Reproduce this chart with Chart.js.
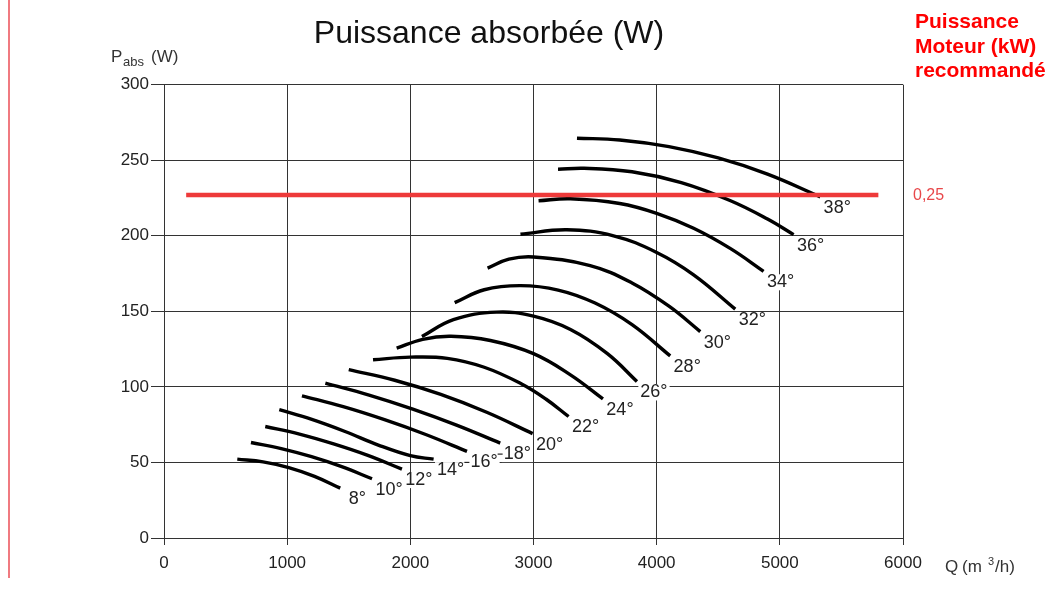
<!DOCTYPE html>
<html><head><meta charset="utf-8">
<script src="https://cdn.jsdelivr.net/npm/chart.js@4"></script>
<style>html,body{margin:0;padding:0;background:#fff;}#wrap{position:relative;width:1048px;height:593px;}</style>
</head><body><div id="wrap"><canvas id="c" width="1048" height="593"></canvas></div>
<script>
// ---- data ----
const xTicks = [0, 1000, 2000, 3000, 4000, 5000, 6000];
const yTicks = [0, 50, 100, 150, 200, 250, 300];
const angleLabels = ['8°','10°','12°','14°','16°','18°','20°','22°','24°','26°','28°','30°','32°','34°','36°','38°'];
// each curve: [Q (m3/h), Pabs (W)]
const c08 = [[595,52.2],[804,50.4],[1013,46.6],[1222,40.8],[1431,33]];
const c10 = [[706,63.2],[952,59.2],[1198,53.8],[1443,47.2],[1689,39.2]];
const c12 = [[822,73.8],[1100,68.8],[1377,62.3],[1655,54.7],[1932,45.6]];
const c14 = [[936,84.9],[1200,78.5],[1470,70.5],[1740,61.5],[2000,54.5],[2189,52.2]];
const c16 = [[1120,94.1],[1455,86.9],[1790,78.3],[2125,68.5],[2460,57.3]];
const c18 = [[1310,102.5],[1665,94.6],[2020,85.3],[2375,74.7],[2730,62.8]];
const c20 = [[1500,111.4],[1873,104.4],[2247,95.0],[2620,83.2],[2993,69.1]];
const c22 = [[1697,118],[2000,119.7],[2300,118.9],[2600,113],[2900,102.1],[3100,92],[3285,80.4]];
const c24 = [[1889,125.6],[2100,131.5],[2330,133.5],[2650,130.7],[3000,122],[3300,108],[3564,92.1]];
const c26 = [[2094,133.3],[2350,144.5],[2700,149.5],[3000,146.8],[3300,138],[3600,122],[3840,103.6]];
const c28 = [[2360,155.8],[2600,164.3],[2895,167],[3200,164.1],[3500,155.5],[3800,141.2],[4110,120.5]];
const c30 = [[2627,178.6],[2800,184.5],[3000,186],[3460,180.3],[3800,168.8],[4100,153.4],[4354,136.6]];
const c32 = [[2894,201],[3270,204],[3650,200],[4000,189],[4300,174.2],[4638,151.5]];
const c34 = [[3041,223.2],[3300,224.5],[3700,221.4],[4000,214.9],[4300,205],[4600,191.5],[4868,176.5]];
const c36 = [[3199,244],[3410,244.7],[3800,242.4],[4200,235.2],[4600,223.2],[4900,211.1],[5112,200.8]];
const c38 = [[3353,264.6],[3700,263.4],[4100,259],[4500,251.5],[4900,240.8],[5328,225.8]];
const curves = [c08,c10,c12,c14,c16,c18,c20,c22,c24,c26,c28,c30,c32,c34,c36,c38];
const motorQ = [180, 5800];
const motorP = [227, 227];
const motorLabel = '0,25';
const titleText = 'Puissance absorbée (W)';
const sideTitle = ['Puissance', 'Moteur (kW)', 'recommandé'];

// ---- chart ----
const FONT = 'Liberation Sans, Arial, sans-serif';
const datasets = [{
  data: motorQ.map((q,i)=>({x:q,y:motorP[i]})),
  borderColor:'#ee3a3a', borderWidth:4.5, pointRadius:0, order:0, borderCapStyle:'butt'
}];
curves.forEach(c => datasets.push({
  data: c.map(p=>({x:p[0],y:p[1]})),
  borderColor:'#000', borderWidth:3.4, pointRadius:0, tension:0.4, order:1, borderCapStyle:'butt'
}));

const textPlugin = {
  id:'texts',
  afterDatasetsDraw(chart){
    const ctx = chart.ctx, xs = chart.scales.x, ys = chart.scales.y;
    ctx.save();
    ctx.font = '18px ' + FONT;
    ctx.textAlign = 'center'; ctx.textBaseline = 'middle';
    curves.forEach((c,i)=>{
      const last = c[c.length-1];
      const px = xs.getPixelForValue(last[0]) + 17;
      const py = ys.getPixelForValue(last[1]) + 11;
      const w = ctx.measureText(angleLabels[i]).width;
      ctx.fillStyle = '#fff';
      ctx.fillRect(px - w/2 - 2, py - 8, w + 4, 16);
      ctx.fillStyle = '#222';
      ctx.fillText(angleLabels[i], px, py);
      if (i === 4 || i === 5) {
        ctx.strokeStyle = '#222'; ctx.lineWidth = 1.2;
        ctx.beginPath(); ctx.moveTo(px - w/2 - 6, py); ctx.lineTo(px - w/2 - 1, py); ctx.stroke();
      }
    });
    ctx.textAlign = 'left';
    ctx.fillStyle = '#e8474a';
    ctx.font = '16px ' + FONT;
    ctx.fillText(motorLabel, xs.right + 10, ys.getPixelForValue(motorP[1]) + 1);
    ctx.restore();
  },
  afterDraw(chart){
    const ctx = chart.ctx;
    ctx.save();
    ctx.strokeStyle = '#f07a80'; ctx.lineWidth = 2;
    ctx.beginPath(); ctx.moveTo(9, 0); ctx.lineTo(9, 578); ctx.stroke();
    ctx.fillStyle = '#111';
    ctx.font = '32px ' + FONT; ctx.textAlign = 'center'; ctx.textBaseline = 'alphabetic';
    ctx.fillText(titleText, 489, 43);
    ctx.fillStyle = '#ff0000'; ctx.font = 'bold 21px ' + FONT; ctx.textAlign = 'left';
    sideTitle.forEach((t,i)=> ctx.fillText(t, 915, 28 + i*24.5));
    // y axis title
    ctx.fillStyle = '#333'; ctx.textAlign = 'left';
    ctx.font = '17px ' + FONT;
    ctx.fillText('P', 111, 62);
    ctx.font = '13px ' + FONT;
    ctx.fillText('abs', 123, 66);
    ctx.font = '17px ' + FONT;
    ctx.fillText('(W)', 151, 62);
    // x axis title
    ctx.font = '17px ' + FONT;
    ctx.fillText('Q', 945, 572);
    ctx.fillText('(m', 962, 572);
    ctx.font = '11px ' + FONT;
    ctx.fillText('3', 988, 565);
    ctx.font = '17px ' + FONT;
    ctx.fillText('/h)', 995, 572);
    ctx.restore();
  }
};

new Chart(document.getElementById('c'), {
  type:'line',
  data:{datasets},
  options:{
    responsive:false, animation:false, devicePixelRatio:1,
    layout:{padding:{top:84.7, right:145, left:0, bottom:0}},
    plugins:{legend:{display:false}, tooltip:{enabled:false}, title:{display:false}},
    scales:{
      x:{type:'linear', min:xTicks[0], max:xTicks[xTicks.length-1],
        afterBuildTicks(s){ s.ticks = xTicks.map(v=>({value:v})); },
        afterFit(s){ s.height = 55; },
        ticks:{font:{family:FONT,size:17}, color:'#222', padding:8, maxRotation:0, callback:v=>String(v)},
        grid:{color:'#333', lineWidth:1, tickLength:7, drawTicks:true},
        border:{color:'#333', width:1}
      },
      y:{type:'linear', min:yTicks[0], max:yTicks[yTicks.length-1],
        afterBuildTicks(s){ s.ticks = yTicks.map(v=>({value:v})); },
        afterFit(s){ s.width = 164; },
        ticks:{font:{family:FONT,size:17}, color:'#222', padding:2, callback:v=>String(v)},
        grid:{color:'#333', lineWidth:1, tickLength:13, drawTicks:true},
        border:{color:'#333', width:1}
      }
    }
  },
  plugins:[textPlugin]
});
</script></body></html>
